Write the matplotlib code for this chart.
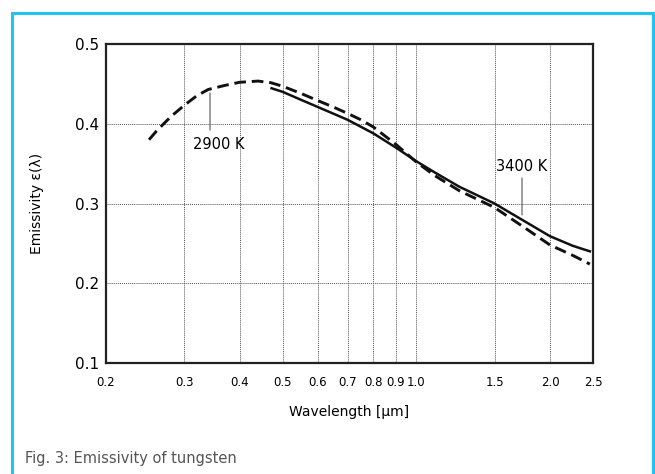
import matplotlib
matplotlib.use("Agg")
import matplotlib.pyplot as plt
from matplotlib.patches import Rectangle
from matplotlib.ticker import NullLocator

# emissivity of tungsten
wl_2900 = [0.25, 0.26, 0.28, 0.30, 0.32, 0.34, 0.37, 0.40, 0.44, 0.47, 0.50, 0.55, 0.60, 0.65, 0.70,
           0.75, 0.80, 0.90, 1.00, 1.10, 1.25, 1.50, 1.75, 2.00, 2.25, 2.46]
em_2900 = [0.380, 0.391, 0.409, 0.423, 0.435, 0.443, 0.448, 0.452, 0.4535, 0.4515, 0.447, 0.438, 0.429, 0.421, 0.413,
           0.405, 0.396, 0.374, 0.352, 0.335, 0.316, 0.295, 0.270, 0.248, 0.235, 0.224]

wl_3400 = [0.472, 0.50, 0.55, 0.60, 0.70, 0.80, 0.90, 1.00, 1.10, 1.25, 1.50, 1.75, 2.00, 2.25, 2.46]
em_3400 = [0.4445, 0.440, 0.430, 0.421, 0.405, 0.388, 0.370, 0.353, 0.339, 0.321, 0.300, 0.278, 0.259, 0.247, 0.240]

xticks = [0.2, 0.3, 0.4, 0.5, 0.6, 0.7, 0.8, 0.9, 1.0, 1.5, 2.0, 2.5]
xlabels = ["0.2", "0.3", "0.4", "0.5", "0.6", "0.7", "0.8", "0.9", "1.0", "1.5", "2.0", "2.5"]
yticks = [0.1, 0.2, 0.3, 0.4, 0.5]

plt.rcParams['font.family'] = ['DejaVu Sans']

fig = plt.figure(figsize=(6.55, 4.74), dpi=100)
ax = fig.add_axes([106/655, 1-363/474, (593-106)/655, (363-44)/474])

ax.plot(wl_2900, em_2900, color="#111111", lw=2.1, dashes=(4, 2))
ax.plot(wl_3400, em_3400, color="#111111", lw=1.8)

ax.set_xscale("log")
ax.set_xlim(0.2, 2.5)
ax.set_ylim(0.1, 0.5)
ax.set_xticks(xticks)
ax.set_xticklabels(xlabels, fontsize=8.5)
ax.xaxis.set_minor_locator(NullLocator())
ax.set_yticks(yticks)
ax.set_yticklabels([f"{v:.1f}" for v in yticks], fontsize=11)
ax.tick_params(axis='x', length=0, pad=9)
ax.tick_params(axis='y', length=0, pad=5)
ax.grid(True, linestyle=(0, (1, 1)), color="#555555", lw=0.7)
for s in ax.spines.values():
    s.set_linewidth(1.6)
    s.set_color("#222222")

ax.set_xlabel("Wavelength [µm]", fontsize=10, labelpad=12)
ax.set_ylabel("Emissivity ε(λ)", fontsize=10, labelpad=22)

# curve labels with vertical leader lines
ax.annotate("", xy=(0.343, 0.4386), xytext=(0.343, 0.392),
            arrowprops=dict(arrowstyle="-", color="#555555", lw=0.8, shrinkA=0, shrinkB=0))
ax.text(0.358, 0.3746, "2900 K", fontsize=10.5, ha="center", va="center")
ax.annotate("", xy=(1.73, 0.2856), xytext=(1.73, 0.332),
            arrowprops=dict(arrowstyle="-", color="#555555", lw=0.8, shrinkA=0, shrinkB=0))
ax.text(1.73, 0.347, "3400 K", fontsize=10.5, ha="center", va="center")

# blue frame round the figure (open at the bottom)
frame = Rectangle((12/655, -0.1), (653-12)/655, 1.1 - 13/474, transform=fig.transFigure,
                  fill=False, edgecolor="#22C3EE", lw=2.2)
fig.patches.append(frame)

fig.text(25/655, 1-458/474, "Fig. 3: Emissivity of tungsten", fontsize=10.5,
         color="#555555", va="center", ha="left")

fig.savefig("out.png", dpi=100)
